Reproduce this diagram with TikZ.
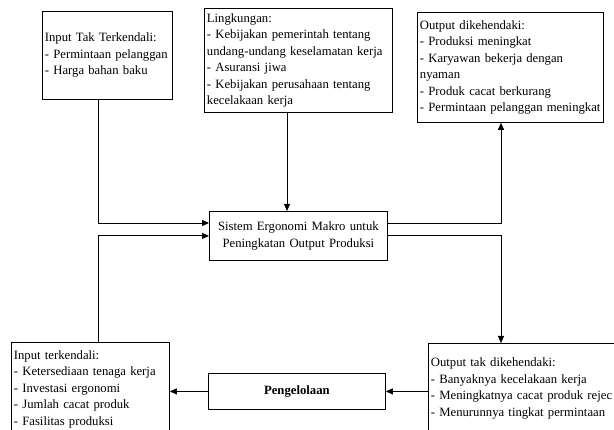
\documentclass[tikz,border=0pt]{standalone}
\usepackage{fontspec}
\setmainfont{Liberation Serif}
\usepackage{tikz}
\usetikzlibrary{positioning,arrows.meta,calc}

\begin{document}
\begin{tikzpicture}[x=1pt,y=-1pt,font=\fontsize{12.7}{16.5}\selectfont,
  kotak/.style={draw,line width=0.8pt,anchor=north west,align=left,inner xsep=2.5pt,inner ysep=2pt},
  tengah/.style={kotak,align=center},
  ar/.style={-{Triangle[length=7pt,width=6pt]},line width=0.8pt}]
\useasboundingbox (0,0) rectangle (614,430);
\clip (0,0) rectangle (614,430);
\node[kotak,minimum width=130,minimum height=88,text width=125] (itt) at (42,11)
  {Input Tak Terkendali:\\- Permintaan pelanggan\\- Harga bahan baku};
\node[kotak,minimum width=188,minimum height=104,text width=183] (ling) at (204,8)
  {Lingkungan:\\- Kebijakan pemerintah tentang\\undang-undang keselamatan kerja\\- Asuransi jiwa\\- Kebijakan perusahaan tentang\\kecelakaan kerja};
\node[kotak,minimum width=186,minimum height=110,text width=181] (odk) at (417,12)
  {Output dikehendaki:\\- Produksi meningkat\\- Karyawan bekerja dengan\\nyaman\\- Produk cacat berkurang\\- Permintaan pelanggan meningkat};
\node[tengah,minimum width=178,minimum height=49,text width=173] (sis) at (209,211)
  {Sistem Ergonomi Makro untuk\\Peningkatan Output Produksi};
\node[tengah,minimum width=177,minimum height=36,text width=172] (pen) at (208,373)
  {\textbf{Pengelolaan}};
\node[kotak,minimum width=230,minimum height=90,text width=225] (otd) at (428,343)
  {Output tak dikehendaki:\\- Banyaknya kecelakaan kerja\\- Meningkatnya cacat produk rejec\\- Menurunnya tingkat permintaan};
\node[kotak,minimum width=158,minimum height=94,text width=153] (itk) at (11,342)
  {Input terkendali:\\- Ketersediaan tenaga kerja\\- Investasi ergonomi\\- Jumlah cacat produk\\- Fasilitas produksi};
\coordinate (kiri) at (98,223);
\coordinate (atas) at (287,0);
\coordinate (kanan) at (501,223);
\draw[ar] (itt.south -| kiri) |- (sis.west |- kiri);
\draw[ar] (itk.north -| kiri) |- (sis.west);
\draw[ar] (ling.south -| atas) -- (sis.north -| atas);
\draw[ar] (sis.east |- kanan) -| (odk.south -| kanan);
\draw[ar] (sis.east) -| (otd.north -| kanan);
\draw[ar] (otd.west |- pen.east) -- (pen.east);
\draw[ar] (pen.west) -- (itk.east |- pen.west);
\end{tikzpicture}
\end{document}
